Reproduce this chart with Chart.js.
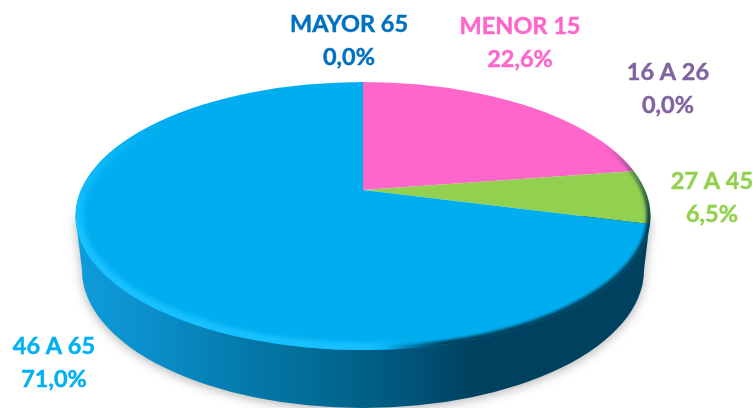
<!DOCTYPE html>
<html>
<head>
<meta charset="utf-8">
<style>html,body{margin:0;padding:0;background:#fff}canvas{display:block}</style>
<script src="https://cdn.jsdelivr.net/npm/chart.js@4/dist/chart.umd.min.js"></script>
</head>
<body>
<canvas id="c" width="756" height="408"></canvas>
<script>
const categories = ['MENOR 15', '16 A 26', '27 A 45', '46 A 65', 'MAYOR 65'];
const percentLabels = ['22,6%', '0,0%', '6,5%', '71,0%', '0,0%'];
const values = [22.6, 0.0, 6.5, 71.0, 0.0];
const sliceColors = ['#FF66CC', '#8064A2', '#92D050', '#00AEEF', '#0070C0'];
const labelColors = ['#FF66CC', '#8064A2', '#92D050', '#00B0F0', '#0070C0'];

// presentation only
const labelCenters = [[520, 26.5], [668, 72], [712, 181], [54, 346], [349, 24]];
const LINE_GAP = 33;
const APEX = {x: 363, y: 190};
const TOP = {x: 363, y: 216, rx: 287.5, ry: 134};
const BASE = {x: 363, y: 270, rx: 281, ry: 138};

function topPath(ctx) {
  ctx.beginPath();
  ctx.ellipse(TOP.x, TOP.y, TOP.rx, TOP.ry, 0, 0, Math.PI * 2);
}

const pie3d = {
  id: 'pie3d',
  beforeDatasetsDraw(chart) {
    const ctx = chart.ctx;
    // side wall and soft shadow
    ctx.save();
    const g = ctx.createLinearGradient(TOP.x - TOP.rx, 0, TOP.x + TOP.rx, 0);
    g.addColorStop(0, '#0E9CDB');
    g.addColorStop(0.13, '#0A8FCB');
    g.addColorStop(0.30, '#0479A9');
    g.addColorStop(0.45, '#016890');
    g.addColorStop(0.58, '#00557A');
    g.addColorStop(0.69, '#00415F');
    g.addColorStop(1, '#00415F');
    ctx.fillStyle = g;
    ctx.shadowColor = 'rgba(0,0,0,0.30)';
    ctx.shadowBlur = 11;
    ctx.shadowOffsetY = 2;
    ctx.beginPath();
    ctx.moveTo(TOP.x - TOP.rx, TOP.y);
    ctx.lineTo(BASE.x - BASE.rx, BASE.y);
    ctx.ellipse(BASE.x, BASE.y, BASE.rx, BASE.ry, 0, Math.PI, 0, true);
    ctx.lineTo(TOP.x + TOP.rx, TOP.y);
    ctx.closePath();
    ctx.fill();
    ctx.restore();
    // top face: slices come from Chart.js arcs, seen in perspective
    const arc = chart.getDatasetMeta(0).data[0];
    const sx = 430 / arc.outerRadius, sy = 0.455 * sx;
    ctx.save();
    topPath(ctx);
    ctx.clip();
    ctx.translate(APEX.x, APEX.y);
    ctx.scale(sx, sy);
    ctx.translate(-arc.x, -arc.y);
  },
  afterDatasetsDraw(chart) {
    const ctx = chart.ctx;
    ctx.restore();
    // bevel along the rim
    ctx.save();
    topPath(ctx);
    ctx.clip();
    const lite = ctx.createConicGradient(0, TOP.x, TOP.y);
    lite.addColorStop(0, 'rgba(24,192,255,0)');
    lite.addColorStop(0.19, 'rgba(24,192,255,0)');
    lite.addColorStop(0.25, 'rgba(24,192,255,1)');
    lite.addColorStop(0.49, 'rgba(24,192,255,1)');
    lite.addColorStop(0.57, 'rgba(24,192,255,0)');
    lite.addColorStop(1, 'rgba(24,192,255,0)');
    ctx.filter = 'blur(2px)';
    ctx.strokeStyle = lite;
    ctx.lineWidth = 15;
    topPath(ctx);
    ctx.stroke();
    const dark = ctx.createConicGradient(0, TOP.x, TOP.y);
    dark.addColorStop(0, 'rgba(0,45,65,0.85)');
    dark.addColorStop(0.16, 'rgba(0,45,65,0.85)');
    dark.addColorStop(0.225, 'rgba(0,45,65,0)');
    dark.addColorStop(0.955, 'rgba(0,45,65,0)');
    dark.addColorStop(1, 'rgba(0,45,65,0.85)');
    ctx.filter = 'blur(1.6px)';
    ctx.strokeStyle = dark;
    ctx.lineWidth = 8;
    topPath(ctx);
    ctx.stroke();
    ctx.restore();
    // labels
    ctx.save();
    ctx.font = 'bold 23.5px Lato, sans-serif';
    ctx.textAlign = 'center';
    ctx.textBaseline = 'middle';
    ctx.lineWidth = 0.45;
    categories.forEach((name, i) => {
      const [x, y] = labelCenters[i];
      ctx.fillStyle = ctx.strokeStyle = labelColors[i];
      [[name, y], [percentLabels[i], y + LINE_GAP]].forEach(([text, ty]) => {
        ctx.fillText(text, x, ty);
        ctx.strokeText(text, x, ty);
      });
    });
    ctx.restore();
  }
};

new Chart(document.getElementById('c'), {
  type: 'pie',
  data: {
    labels: categories,
    datasets: [{data: values, backgroundColor: sliceColors, borderWidth: 0, hoverOffset: 0}]
  },
  options: {
    responsive: false,
    animation: false,
    layout: {padding: 0},
    plugins: {legend: {display: false}, tooltip: {enabled: false}}
  },
  plugins: [pie3d]
});
</script>
</body>
</html>
